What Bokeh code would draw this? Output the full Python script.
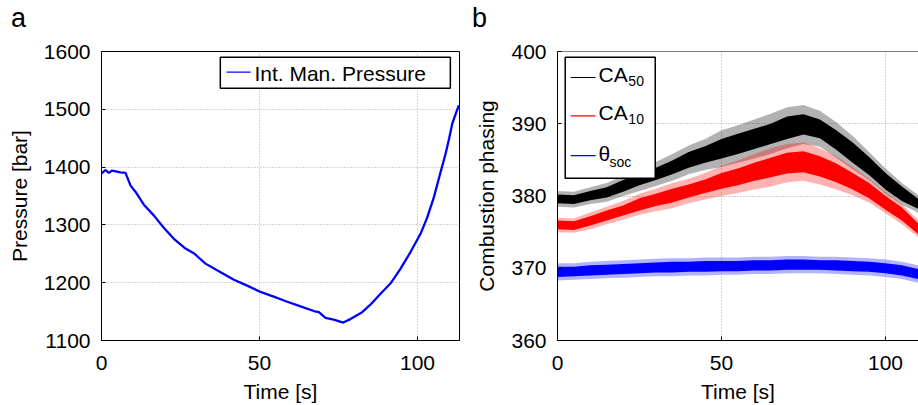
from bokeh.plotting import figure
from bokeh.layouts import row, column
from bokeh.models import Range1d, FixedTicker, Span, Div
from bokeh.core.properties import value
from bokeh.embed import file_html
from bokeh.resources import INLINE

# ---------------- data ----------------
press_t = [0, 1.3, 2.3, 3.4, 6.0, 7.6, 9.2, 10.8, 13.4, 16.6, 19.7, 22.9, 26.6, 29.2,
           32.9, 37.7, 41.9, 46.1, 50.3, 54.5, 58.8, 63.0, 67.2, 68.8, 70.9, 73.5,
           76.5, 78.8, 82.5, 85.1, 88.3, 91.5, 94.6, 97.8, 101.0, 103.1, 105.2,
           107.3, 108.9, 110.0, 111.0, 112.1, 113.1]
press_p = [1389, 1395, 1390, 1394, 1391, 1390, 1368, 1357, 1335, 1316, 1295, 1276,
           1259, 1251, 1233, 1218, 1205, 1195, 1184, 1176, 1167, 1159, 1151, 1149,
           1139, 1136, 1131, 1137, 1149, 1162, 1181, 1199, 1224, 1253, 1285, 1313,
           1348, 1391, 1423, 1449, 1475, 1492, 1507]

phase_t = [0, 5, 10, 15, 20, 25, 30, 35, 40, 45, 50, 55, 60, 65, 70, 75, 80, 85,
           90, 95, 100, 105, 110]
ca50_lo = [379.0, 378.9, 379.4, 379.8, 380.6, 381.5, 382.2, 383.0, 383.9, 384.6,
           385.2, 385.8, 386.5, 387.2, 387.9, 388.5, 388.0, 386.4, 384.6, 382.9,
           380.9, 379.3, 378.2]
ca50_hi = [380.2, 380.1, 380.7, 381.2, 382.2, 383.1, 383.9, 384.9, 386.1, 386.9,
           387.9, 388.6, 389.3, 390.0, 391.0, 391.3, 390.6, 389.1, 387.4, 385.4,
           383.2, 381.3, 379.6]
ca50_spike = [0.5, 0.5, 0.5, 0.6, 0.6, 0.8, 0.8, 0.9, 0.9, 1.0, 1.2, 1.2, 1.3, 1.4,
              1.3, 1.3, 1.2, 1.1, 0.9, 0.7, 0.6, 0.5, 0.5]
ca10_lo = [375.4, 375.3, 375.9, 376.6, 377.3, 378.0, 378.6, 379.1, 379.8, 380.4,
           381.0, 381.5, 382.1, 382.6, 383.1, 383.3, 382.7, 381.9, 380.9, 379.7,
           378.1, 376.6, 374.7]
ca10_hi = [376.6, 376.5, 377.2, 378.0, 378.7, 379.7, 380.3, 381.0, 381.6, 382.3,
           383.2, 383.8, 384.6, 385.3, 386.0, 386.2, 385.5, 384.5, 383.2, 381.8,
           380.0, 378.4, 376.2]
ca10_spike = [0.4, 0.4, 0.5, 0.5, 0.6, 0.6, 0.7, 0.8, 0.8, 0.9, 1.0, 1.1, 1.2, 1.3,
              1.2, 1.2, 1.1, 1.0, 0.8, 0.6, 0.5, 0.5, 0.4]
soc_lo = [368.8, 368.9, 369.0, 369.1, 369.2, 369.3, 369.4, 369.4, 369.5, 369.5,
          369.6, 369.6, 369.7, 369.7, 369.8, 369.8, 369.8, 369.7, 369.6, 369.5,
          369.3, 369.0, 368.5]
soc_hi = [370.2, 370.2, 370.4, 370.5, 370.6, 370.7, 370.8, 370.9, 370.9, 371.0,
          371.0, 371.0, 371.1, 371.1, 371.2, 371.2, 371.1, 371.1, 371.0, 370.9,
          370.7, 370.4, 369.9]
soc_spike = [0.5, 0.5, 0.5, 0.5, 0.5, 0.5, 0.5, 0.5, 0.5, 0.5, 0.5, 0.5, 0.5, 0.5,
             0.5, 0.5, 0.5, 0.5, 0.5, 0.5, 0.5, 0.5, 0.5]

press_xticks = [0, 50, 100]
press_yticks = [1100, 1200, 1300, 1400, 1500, 1600]
phase_xticks = [0, 50, 100]
phase_yticks = [360, 370, 380, 390, 400]
panel_letters = ["a", "b"]

FONT = "Liberation Sans"
FS = "21px"
HEAD = 40  # height of the strip holding the panel letters


def style(p, xticks, yticks, xlabel, ylabel):
    p.background_fill_color = "white"
    p.border_fill_color = "white"
    p.xaxis.ticker = FixedTicker(ticks=xticks)
    p.yaxis.ticker = FixedTicker(ticks=yticks)
    p.xaxis.axis_label = xlabel
    p.yaxis.axis_label = ylabel
    for ax in list(p.xaxis) + list(p.yaxis):
        ax.axis_label_text_font = FONT
        ax.axis_label_text_font_size = FS
        ax.axis_label_text_font_style = "normal"
        ax.axis_label_text_color = "black"
        ax.major_label_text_font = FONT
        ax.major_label_text_font_size = FS
        ax.major_label_text_color = "black"
        ax.axis_line_color = "black"
        ax.axis_line_width = 1
        ax.major_tick_in = 4
        ax.major_tick_out = 0
        ax.major_tick_line_color = "black"
        ax.minor_tick_line_color = None
    p.xaxis.major_label_standoff = 15
    p.xaxis.axis_label_standoff = 7
    p.yaxis.major_label_standoff = 11
    p.yaxis.axis_label_standoff = 10
    for g in list(p.xgrid) + list(p.ygrid):
        g.grid_line_color = "#aaaaaa"
        g.grid_line_dash = "1 2"
        g.grid_line_width = 1


# ---------------- panel a ----------------
p1 = figure(width=460, height=405 - HEAD, x_range=Range1d(0, 113.3),
            y_range=Range1d(1100, 1600), output_backend="svg",
            toolbar_location=None, min_border_left=101, min_border_right=1,
            min_border_top=51 - HEAD, min_border_bottom=65)
style(p1, press_xticks, press_yticks, "Time [s]", "Pressure [bar]")
p1.outline_line_color = "black"
p1.line(press_t, press_p, line_color="#0000ff", line_width=2.3)

# legend a
p1.quad(left=[37.6], right=[110.4], bottom=[1536.5], top=[1590.1],
        fill_color="white", line_color="black", line_width=1.5)
p1.line([39.6, 47.2], [1564.2, 1564.2], line_color="#0000ff", line_width=1.2)
p1.text([48.4], [1561.1], text=["Int. Man. Pressure"], text_font=value(FONT),
        text_font_size=value(FS), text_color="black", text_baseline="middle")

# ---------------- panel b ----------------
p2 = figure(width=458, height=405 - HEAD, x_range=Range1d(0, 110.06),
            y_range=Range1d(360, 400), output_backend="svg",
            toolbar_location=None, min_border_left=97, min_border_right=0,
            min_border_top=51 - HEAD, min_border_bottom=65)
style(p2, phase_xticks, phase_yticks, "Time [s]", "Combustion phasing")
p2.outline_line_color = None
p2.add_layout(Span(location=400, dimension="width", line_color="black", line_width=1))

for lo, hi, sp, col in [(ca50_lo, ca50_hi, ca50_spike, "#000000"),
                        (ca10_lo, ca10_hi, ca10_spike, "#ff0000"),
                        (soc_lo, soc_hi, soc_spike, "#0000ff")]:
    slo = [a - s for a, s in zip(lo, sp)]
    shi = [b + s for b, s in zip(hi, sp)]
    p2.varea(x=phase_t, y1=slo, y2=shi, fill_color=col, fill_alpha=0.3)
    p2.varea(x=phase_t, y1=lo, y2=hi, fill_color=col, fill_alpha=1.0)

# legend b
p2.quad(left=[2.35], right=[29.8], bottom=[382.46], top=[399.2],
        fill_color="white", line_color="black", line_width=1.5)
leg_items = [("#000000", 396.4, "CA", "50", 396.79, 395.85, 21.6),
             ("#ff0000", 391.1, "CA", "10", 391.49, 390.63, 21.6),
             ("#0000ff", 385.6, "\u03b8", "soc", 385.84, 384.73, 15.85)]
for col, ly, main, sub, by, sby, sx in leg_items:
    p2.line([4.0, 11.6], [ly, ly], line_color=col, line_width=1.2)
    p2.text([12.5], [by], text=[main], text_font=value(FONT),
            text_font_size=value(FS), text_color="black", text_baseline="middle")
    p2.text([sx], [sby], text=[sub], text_font=value(FONT),
            text_font_size=value("14px"), text_color="black",
            text_baseline="middle")

# panel letters strip
span_css = ("position:absolute;top:5px;font-family:'Liberation Sans';"
            "font-size:27px;line-height:27px;color:black;")
letters_html = (
    f'<div style="position:relative;width:918px;height:{HEAD}px;background:white;">'
    f'<span style="{span_css}left:11px;">{panel_letters[0]}</span>'
    f'<span style="{span_css}left:472px;">{panel_letters[1]}</span>'
    '</div>'
)
head = Div(text=letters_html, width=918, height=HEAD, margin=(0, 0, 0, 0))

layout = column(head, row(p1, p2), spacing=0)
open("out.html", "w").write(file_html(layout, INLINE))
